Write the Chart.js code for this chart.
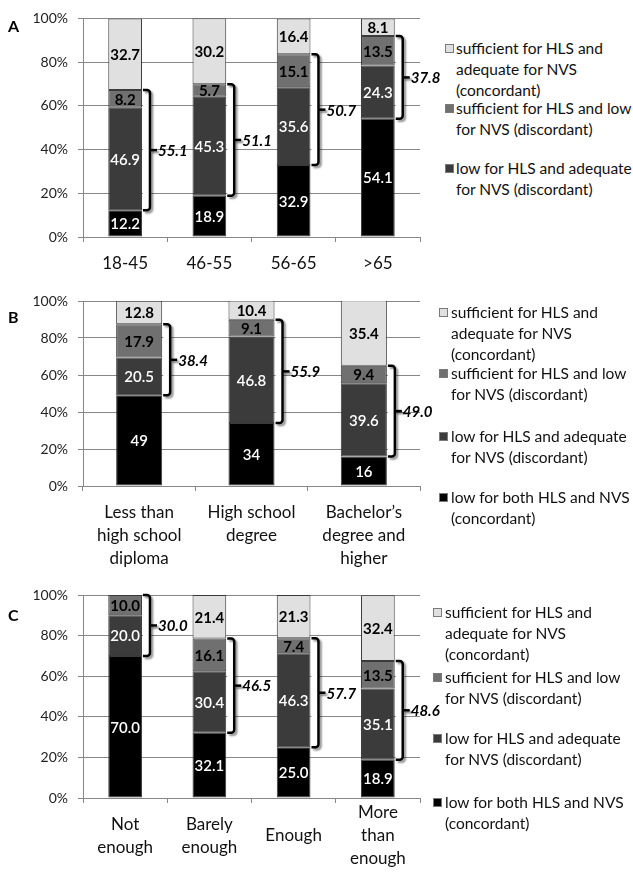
<!DOCTYPE html>
<html><head><meta charset="utf-8">
<script src="https://cdn.jsdelivr.net/npm/chart.js@4.4.1/dist/chart.umd.min.js"></script>
<style>
body{margin:0;width:633px;height:880px;background:#fff;overflow:hidden;font-family:Lato,sans-serif;position:relative}
.panel{position:absolute;left:0;width:440px}
.letter{position:absolute;left:8px;font:bold 16px Lato;line-height:20px;color:#000}
.item{position:absolute;font:15.5px Lato;line-height:20.5px;color:#111;white-space:nowrap}
.sq{position:absolute;width:7px;height:7px;border:1px solid #7a7a7a}
</style></head>
<body>
<div class="panel" style="top:0;height:280px"><canvas id="cA" width="440" height="280"></canvas></div>
<div class="panel" style="top:280px;height:295px"><canvas id="cB" width="440" height="295"></canvas></div>
<div class="panel" style="top:575px;height:305px"><canvas id="cC" width="440" height="305"></canvas></div>
<div class="letter" style="top:16px">A</div>
<div class="letter" style="top:307px">B</div>
<div class="letter" style="top:605px">C</div>
<div id="legends"></div>
<script>
// ---- data ----
const legendLines = [
  ["low for both HLS and NVS", "(concordant)"],
  ["low for HLS and adequate", "for NVS (discordant)"],
  ["sufficient for HLS and low", "for NVS (discordant)"],
  ["sufficient for HLS and", "adequate for NVS", "(concordant)"]
];
const yTickValues = [0, 20, 40, 60, 80, 100];

const ageCategories = ["18-45", "46-55", "56-65", ">65"];
const ageLowBoth = [12.2, 18.9, 32.9, 54.1];
const ageLowHLS = [46.9, 45.3, 35.6, 24.3];
const ageLowNVS = [8.2, 5.7, 15.1, 13.5];
const ageSufficient = [32.7, 30.2, 16.4, 8.1];
const ageDiscordant = [55.1, 51.1, 50.7, 37.8];

const eduCategories = [["Less than", "high school", "diploma"], ["High school", "degree"], ["Bachelor\u2019s", "degree and", "higher"]];
const eduLowBoth = [49, 34, 16];
const eduLowHLS = [20.5, 46.8, 39.6];
const eduLowNVS = [17.9, 9.1, 9.4];
const eduSufficient = [12.8, 10.4, 35.4];
const eduDiscordant = [38.4, 55.9, 49.0];

const incCategories = [["Not", "enough"], ["Barely", "enough"], ["Enough"], ["More", "than", "enough"]];
const incLowBoth = [70.0, 32.1, 25.0, 18.9];
const incLowHLS = [20.0, 30.4, 46.3, 35.1];
const incLowNVS = [10.0, 16.1, 7.4, 13.5];
const incSufficient = [0, 21.4, 21.3, 32.4];
const incDiscordant = [30.0, 46.5, 57.7, 48.6];

// ---- styles ----
const fills = ["#000000", "#3b3b3b", "#707070", "#e0e0e0"];
const gridCol = "#878787";

function labelsPlugin(fmt) {
  return {
    id: 'lbl',
    afterDatasetsDraw(chart) {
      const ctx = chart.ctx;
      const area = chart.chartArea;
      chart.data.datasets.forEach((ds, di) => {
        const meta = chart.getDatasetMeta(di);
        meta.data.forEach((bar, i) => {
          const v = ds.data[i];
          if (!v) return;
          const top = Math.max(bar.y, area.top);
          const y = (top + bar.base) / 2;
          ctx.save();
          ctx.textAlign = 'center';
          ctx.textBaseline = 'middle';
          if (di < 2) { ctx.fillStyle = '#fff'; ctx.font = '600 15px Lato'; }
          else { ctx.fillStyle = '#000'; ctx.font = 'bold 15px Lato'; }
          ctx.fillText(fmt(v), bar.x, y + 1);
          ctx.restore();
        });
      });
    }
  };
}

function bracketPlugin(totals) {
  return {
    id: 'brk',
    afterDatasetsDraw(chart) {
      const ctx = chart.ctx;
      const m1 = chart.getDatasetMeta(1), m2 = chart.getDatasetMeta(2);
      totals.forEach((t, i) => {
        const b1 = m1.data[i], b2 = m2.data[i];
        const xr = b1.x + b1.width / 2 + 1;
        const bottom = b1.base, top = b2.y;
        const xv = xr + 7, mid = (top + bottom) / 2, r = 3;
        ctx.save();
        ctx.fillStyle = '#fff';
        ctx.fillRect(xr, top, xv - xr, bottom - top);
        ctx.lineWidth = 2.5; ctx.strokeStyle = '#000'; ctx.lineJoin = 'round'; ctx.lineCap = 'butt';
        ctx.shadowColor = 'rgba(0,0,0,0.45)'; ctx.shadowOffsetX = 2; ctx.shadowOffsetY = 2; ctx.shadowBlur = 2;
        ctx.beginPath();
        ctx.moveTo(xr, top);
        ctx.arcTo(xv, top, xv, bottom, r);
        ctx.arcTo(xv, bottom, xr, bottom, r);
        ctx.lineTo(xr, bottom);
        ctx.stroke();
        ctx.beginPath(); ctx.moveTo(xv, mid); ctx.lineTo(xv + 7, mid); ctx.stroke();
        ctx.restore();
        ctx.save();
        ctx.font = 'italic bold 15px Lato'; ctx.fillStyle = '#000';
        ctx.textAlign = 'left'; ctx.textBaseline = 'middle';
        ctx.fillText(t.toFixed(1), xv + 8, mid + 1);
        ctx.restore();
      });
    }
  };
}

function makePanel(id, cats, series, totals, o) {
  const datasets = series.map((d, k) => ({
    label: legendLines[k].join(' '),
    data: d,
    backgroundColor: fills[k],
    borderColor: '#3a3a3a',
    borderWidth: 1,
    borderSkipped: false,
    barPercentage: o.barPct,
    categoryPercentage: 1
  }));
  new Chart(document.getElementById(id), {
    type: 'bar',
    data: { labels: cats, datasets },
    options: {
      responsive: false, animation: false,
      layout: { padding: { top: o.top, right: 20, left: 0, bottom: 0 } },
      plugins: { legend: { display: false }, tooltip: { enabled: false } },
      scales: {
        x: {
          stacked: true,
          grid: { drawOnChartArea: false, drawTicks: true, tickLength: 5, color: gridCol },
          border: { display: true, color: gridCol },
          ticks: { color: '#111', font: { family: 'Lato', size: 17, lineHeight: 1.35 }, padding: o.xpad, crossAlign: o.cross, maxRotation: 0, autoSkip: false },
          afterFit(s) { s.height = o.xh; }
        },
        y: {
          stacked: true, min: 0, max: 100,
          afterBuildTicks(s) { s.ticks = yTickValues.map(v => ({ value: v })); },
          grid: { color: gridCol, tickLength: 5 },
          border: { display: true, color: gridCol },
          ticks: { color: '#222', font: { family: 'Lato', size: 14 }, padding: 10, callback: v => v + '%' },
          afterFit(s) { s.width = 83; }
        }
      }
    },
    plugins: [labelsPlugin(o.fmt), bracketPlugin(totals)]
  });
}

makePanel('cA', ageCategories, [ageLowBoth, ageLowHLS, ageLowNVS, ageSufficient], ageDiscordant,
  { top: 10, xh: 43, xpad: 10, cross: 'near', barPct: 0.4, fmt: v => v.toFixed(1) });
makePanel('cB', eduCategories, [eduLowBoth, eduLowHLS, eduLowNVS, eduSufficient], eduDiscordant,
  { top: 21, xh: 89, xpad: 10, cross: 'near', barPct: 0.41, fmt: v => String(v) });
makePanel('cC', incCategories, [incLowBoth, incLowHLS, incLowNVS, incSufficient], incDiscordant,
  { top: 20, xh: 82, xpad: 10, cross: 'center', barPct: 0.4, fmt: v => v.toFixed(1) });

// ---- HTML legends ----
const legendLayouts = [
  { sqx: 445, tx: 456, items: [[3, 48], [2, 108], [1, 168]] },
  { sqx: 439, tx: 451, items: [[3, 312], [2, 373], [1, 436], [0, 497]] },
  { sqx: 433, tx: 445, items: [[3, 612], [2, 677], [1, 738], [0, 802]] }
];
const lg = document.getElementById('legends');
legendLayouts.forEach(L => {
  L.items.forEach(([k, yc]) => {
    const sq = document.createElement('div');
    sq.className = 'sq';
    sq.style.left = L.sqx + 'px'; sq.style.top = (yc - 4) + 'px';
    sq.style.background = fills[k];
    lg.appendChild(sq);
    legendLines[k].forEach((line, j) => {
      const t = document.createElement('div');
      t.className = 'item';
      t.textContent = line;
      t.style.left = L.tx + 'px';
      t.style.top = (yc - 10.25 + j * 21) + 'px';
      lg.appendChild(t);
    });
  });
});
</script>
</body></html>
